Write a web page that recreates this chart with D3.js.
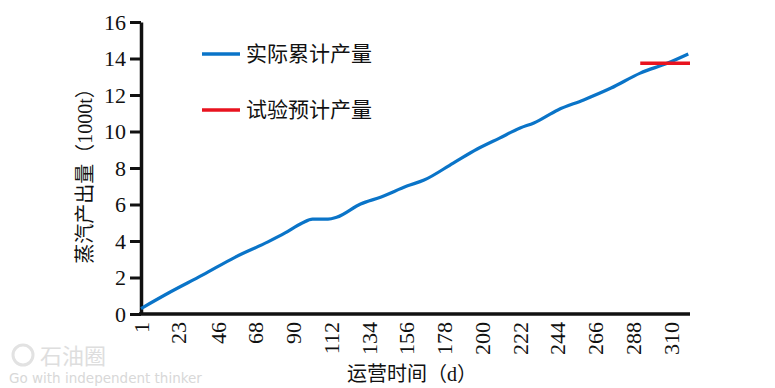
<!DOCTYPE html>
<html>
<head>
<meta charset="utf-8">
<script src="https://cdn.jsdelivr.net/npm/d3@7"></script>
<style>
  body { margin: 0; background: #fff; }
  svg { display: block; }
</style>
</head>
<body>
<div id="chart"></div>
<script>
// datos
const days = [1, 17, 37, 56, 75, 85, 95, 101, 110, 115, 129, 141, 156, 166, 183, 197, 210, 222, 230, 244, 259, 275, 292, 308, 320];
const produccion = [0.3, 1.15, 2.14, 3.12, 3.95, 4.44, 4.99, 5.2, 5.2, 5.3, 6.03, 6.41, 7.01, 7.34, 8.27, 9.04, 9.64, 10.19, 10.47, 11.18, 11.73, 12.38, 13.2, 13.75, 14.25];
const prevDays = [292, 321];
const prevista = [13.74, 13.74];
const xTicks = [1, 23, 46, 68, 90, 112, 134, 156, 178, 200, 222, 244, 266, 288, 310];
const yTicks = [0, 2, 4, 6, 8, 10, 12, 14, 16];
const series = ["实际累计产量", "试验预计产量"];
const colors = ["#0a74c8", "#e8131f"];

const width = 775, height = 388;
const serif = "Liberation Serif";

const svg = d3.select("#chart").append("svg")
    .attr("width", width)
    .attr("height", height);

const x = d3.scaleLinear([1, 321], [141, 690]);
const y = d3.scaleLinear([0, 16], [314, 22]);

// marca de agua
svg.append("text")
    .attr("x", 40).attr("y", 364)
    .attr("font-family", "Noto Sans CJK SC")
    .attr("font-size", 22)
    .attr("fill", "#dedede")
    .text("石油圈");
svg.append("circle")
    .attr("cx", 23).attr("cy", 355).attr("r", 10)
    .attr("fill", "none").attr("stroke", "#e2e2e2").attr("stroke-width", 3);
svg.append("text")
    .attr("x", 9).attr("y", 383)
    .attr("font-family", "DejaVu Sans")
    .attr("font-size", 13.5)
    .attr("fill", "#d8d8d8")
    .text("Go with independent thinker");

// ejes
const yAxis = svg.append("g")
    .attr("transform", `translate(${x(1)},0)`)
    .call(d3.axisLeft(y).tickValues(yTicks).tickSize(11).tickPadding(4).tickSizeOuter(0))
    .attr("font-family", serif)
    .attr("font-size", 22);
yAxis.select(".domain").attr("stroke", "#111").attr("stroke-width", 3.5);
yAxis.selectAll(".tick line").attr("stroke", "#111").attr("stroke-width", 3);
yAxis.selectAll(".tick text")
    .attr("font-family", serif).attr("font-size", 22).attr("fill", "#111");

const xAxis = svg.append("g")
    .attr("transform", `translate(0,${y(0)})`)
    .call(d3.axisBottom(x).tickValues(xTicks).tickSize(0).tickSizeOuter(0))
    .attr("font-family", serif)
    .attr("font-size", 22);
xAxis.select(".domain").attr("stroke", "#111").attr("stroke-width", 3.5)
    .attr("d", `M${x(1) - 2},0H${x(321)}`);
xAxis.selectAll(".tick text")
    .attr("font-family", serif).attr("font-size", 22).attr("fill", "#111")
    .attr("text-anchor", "end")
    .attr("dy", "0.32em")
    .attr("transform", "translate(0,8) rotate(-90)")
    .attr("x", 0).attr("y", 0);

// títulos (el texto latino en tspan aparte para que use la fuente serif)
function titulo(sel, partes) {
    partes.forEach(p => {
        sel.append("tspan")
            .attr("font-family", /[A-Za-z0-9]/.test(p) ? serif : "Noto Sans CJK SC")
            .text(p);
    });
}
const xt = svg.append("text")
    .attr("x", 412).attr("y", 381)
    .attr("text-anchor", "middle")
    .attr("font-size", 20).attr("fill", "#111");
titulo(xt, ["运营时间（", "d", "）"]);

const yt = svg.append("text")
    .attr("transform", "translate(92,171) rotate(-90)")
    .attr("text-anchor", "middle")
    .attr("font-size", 20).attr("fill", "#111");
titulo(yt, ["蒸汽产出量（", "1000t", "）"]);

// líneas
const line = d3.line()
    .x(d => x(d[0]))
    .y(d => y(d[1]))
    .curve(d3.curveMonotoneX);

svg.append("path")
    .attr("fill", "none")
    .attr("stroke", colors[0])
    .attr("stroke-width", 3.2)
    .attr("d", line(d3.zip(days, produccion)));

svg.append("path")
    .attr("fill", "none")
    .attr("stroke", colors[1])
    .attr("stroke-width", 3.5)
    .attr("d", line(d3.zip(prevDays, prevista)));

// leyenda
const legend = svg.append("g");
series.forEach((s, i) => {
    const ly = 54 + i * 56;
    legend.append("line")
        .attr("x1", 202).attr("x2", 240)
        .attr("y1", ly).attr("y2", ly)
        .attr("stroke", colors[i]).attr("stroke-width", 3.5);
    legend.append("text")
        .attr("x", 246).attr("y", ly)
        .attr("dy", "0.35em")
        .attr("font-family", "Noto Sans CJK SC").attr("font-size", 21).attr("fill", "#111")
        .text(s);
});
</script>
</body>
</html>
